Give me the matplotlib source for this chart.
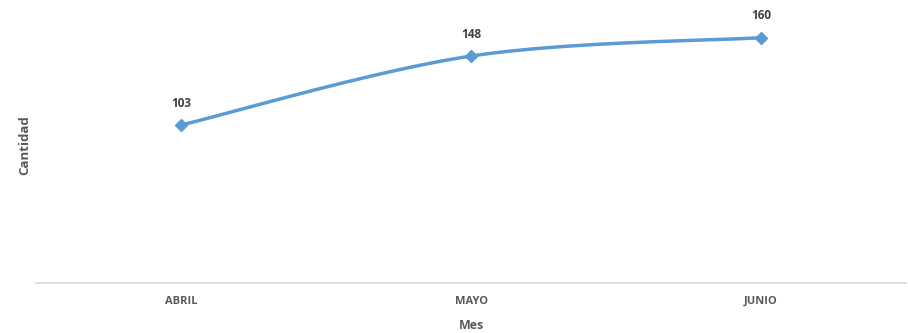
import numpy as np
import matplotlib.pyplot as plt

# datos
meses = ['ABRIL', 'MAYO', 'JUNIO']
cantidad = [103, 148, 160]

plt.rcParams['font.family'] = ['Open Sans', 'DejaVu Sans']

def suavizar(xi, yi, n=40):
    ''' curva suave tipo Excel (Bezier con tangentes Catmull-Rom) '''
    p = np.column_stack([xi, yi]).astype(float)
    m = len(p)
    xs, ys = [], []
    for i in range(m - 1):
        p0 = p[max(i - 1, 0)]
        p1 = p[i]
        p2 = p[i + 1]
        p3 = p[min(i + 2, m - 1)]
        c1 = p1 + (p2 - p0) / 6
        c2 = p2 - (p3 - p1) / 6
        t = np.linspace(0, 1, n)[:, None]
        b = ((1 - t)**3) * p1 + 3 * ((1 - t)**2) * t * c1 + 3 * (1 - t) * t**2 * c2 + t**3 * p2
        xs.extend(b[:, 0])
        ys.extend(b[:, 1])
    return np.array(xs), np.array(ys)

xi = np.arange(len(meses))
xk, yk = suavizar(xi, cantidad)

fig = plt.figure(figsize=(9.08, 3.33), dpi=100)
ax = fig.add_axes([36/908, 1 - 283/333, 870/908, 276/333])

azul = '#5B9BD5'
ax.plot(xk, yk, color=azul, linewidth=2.5, solid_capstyle='round')
ax.plot(xi, cantidad, linestyle='none', marker='D', markersize=6, color=azul)

for x, y in zip(xi, cantidad):
    ax.annotate(str(y), (x, y), xytext=(0, 11), textcoords='offset points',
                ha='center', va='bottom', fontsize=8.5, fontweight='bold', color='#404040')

ax.set_xlim(-0.5, len(meses) - 0.5)
ax.set_ylim(0, 180)
ax.set_xticks(xi)
ax.set_xticklabels(meses, fontsize=8, fontweight='bold', color='#595959')
ax.tick_params(axis='x', length=0, pad=9)
ax.set_yticks([])
for s in ['top', 'right', 'left']:
    ax.spines[s].set_visible(False)
ax.spines['bottom'].set_color('#D9D9D9')
ax.spines['bottom'].set_linewidth(1.2)

ax.set_xlabel('Mes', fontsize=9, fontweight='bold', color='#595959', labelpad=9)
ax.set_ylabel('Cantidad', fontsize=9.5, fontweight='bold', color='#595959')
ax.yaxis.set_label_coords(-5/870, 0.5)

fig.savefig('out.png', dpi=100)
